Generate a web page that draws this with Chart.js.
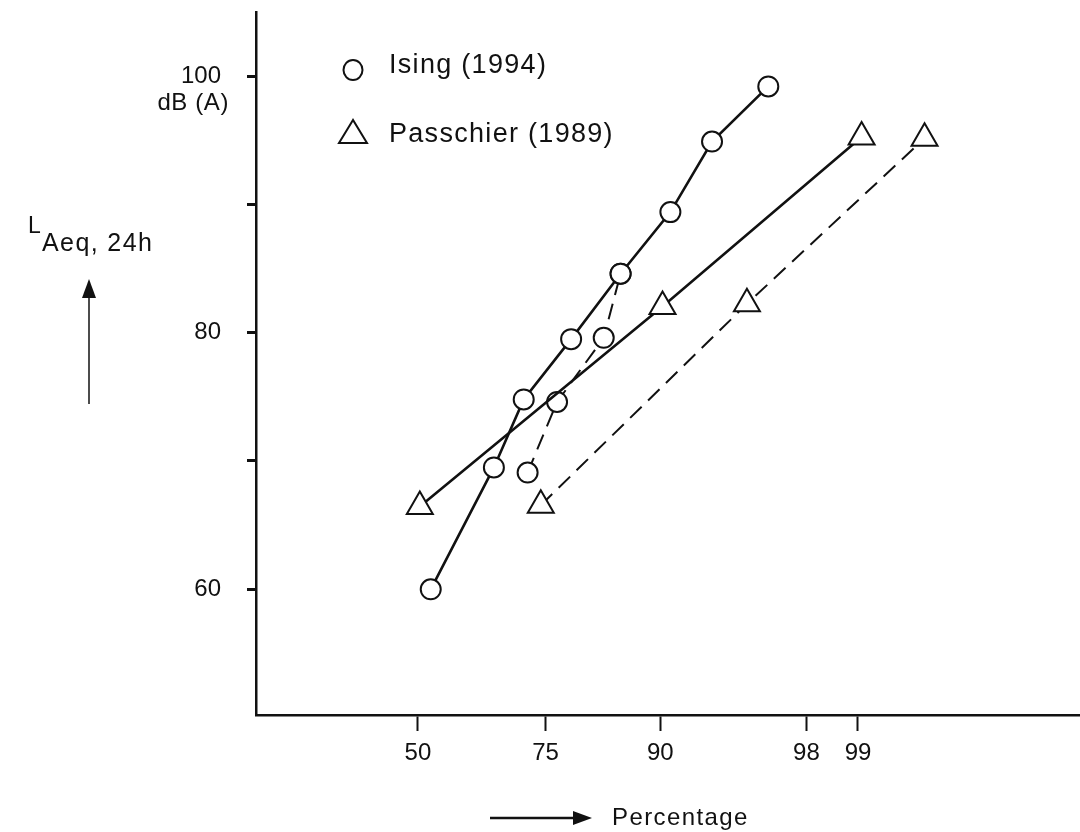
<!DOCTYPE html>
<html>
<head>
<meta charset="utf-8">
<script src="https://cdn.jsdelivr.net/npm/chart.js@4.4.1/dist/chart.umd.min.js"></script>
<style>
  html, body { margin: 0; padding: 0; background: #fff; }
  #wrap { width: 1080px; height: 832px; }
</style>
</head>
<body>
<div id="wrap"><canvas id="lAeqChart" width="1080" height="832"></canvas></div>
<script>
// percentage (x) against LAeq,24h in dB(A) (y)
const isingPct = [52.7, 65.6, 71.2, 79.1, 85.8, 90.9, 94.0, 96.8];
const isingDb = [60.0, 69.5, 74.8, 79.5, 84.6, 89.4, 94.9, 99.2];
const isingDashPct = [71.9, 76.9, 83.7, 85.8];
const isingDashDb = [69.1, 74.6, 79.6, 84.6];
const passchierPct = [50.4, 90.2, 99.05];
const passchierDb = [66.45, 82.05, 95.25];
const passchierDashPct = [74.2, 95.9, 99.63];
const passchierDashDb = [66.55, 82.25, 95.15];

const xTickPct = [50, 75, 90, 98, 99];
const yTicks = [60, 70, 80, 90, 100];
const yTickLabels = ["60", "", "80", "", "100"];

const FONT = "'Liberation Sans', Arial, Helvetica, sans-serif";

// inverse normal cdf (Acklam) - x axis is a probability scale
function probit(p) {
    const a = [-3.969683028665376e+01, 2.209460984245205e+02, -2.759285104469687e+02, 1.383577518672690e+02, -3.066479806614716e+01, 2.506628277459239e+00];
    const b = [-5.447609879822406e+01, 1.615858368580409e+02, -1.556989798598866e+02, 6.680131188771972e+01, -1.328068155288572e+01];
    const c = [-7.784894002430293e-03, -3.223964580411365e-01, -2.400758277161838e+00, -2.549671348019110e+00, 4.374664141464968e+00, 2.938163982698783e+00];
    const d = [7.784695709041462e-03, 3.224671290700398e-01, 2.445134137142996e+00, 3.754408661907416e+00];
    const pLow = 0.02425;
    let q, r;
    if (p < pLow) {
        q = Math.sqrt(-2 * Math.log(p));
        return (((((c[0] * q + c[1]) * q + c[2]) * q + c[3]) * q + c[4]) * q + c[5]) / ((((d[0] * q + d[1]) * q + d[2]) * q + d[3]) * q + 1);
    }
    if (p <= 1 - pLow) {
        q = p - 0.5;
        r = q * q;
        return (((((a[0] * r + a[1]) * r + a[2]) * r + a[3]) * r + a[4]) * r + a[5]) * q / (((((b[0] * r + b[1]) * r + b[2]) * r + b[3]) * r + b[4]) * r + 1);
    }
    q = Math.sqrt(-2 * Math.log(1 - p));
    return -(((((c[0] * q + c[1]) * q + c[2]) * q + c[3]) * q + c[4]) * q + c[5]) / ((((d[0] * q + d[1]) * q + d[2]) * q + d[3]) * q + 1);
}

const toPoints = (pct, db) => pct.map((p, i) => ({ x: probit(p / 100), y: db[i] }));

function series(pct, db, style, dashed) {
    return {
        data: toPoints(pct, db),
        showLine: true,
        borderColor: "#111",
        borderWidth: dashed ? 2 : 2.6,
        borderDash: dashed ? [16, 9] : [],
        pointStyle: style,
        pointRadius: style === "triangle" ? 15 : 10,
        pointBorderWidth: 2,
        pointBorderColor: "#111",
        pointBackgroundColor: "#fff"
    };
}

// legend, axis titles and arrows
const extras = {
    id: "extras",
    afterDraw(chart) {
        const ctx = chart.ctx;
        ctx.save();
        ctx.fillStyle = "#111";
        ctx.strokeStyle = "#111";
        ctx.textBaseline = "middle";

        ctx.font = "24px " + FONT;
        ctx.letterSpacing = "0.6px";
        ctx.textAlign = "right";
        ctx.fillText("dB (A)", 229, 103);

        ctx.textAlign = "left";
        ctx.letterSpacing = "1.4px";
        ctx.font = "23px " + FONT;
        ctx.fillText("L", 28, 227);
        ctx.font = "25px " + FONT;
        ctx.fillText("Aeq, 24h", 42, 244);

        // up arrow
        ctx.lineWidth = 1.5;
        ctx.beginPath();
        ctx.moveTo(89, 404);
        ctx.lineTo(89, 296);
        ctx.stroke();
        ctx.beginPath();
        ctx.moveTo(89, 279);
        ctx.lineTo(82, 298);
        ctx.lineTo(96, 298);
        ctx.closePath();
        ctx.fill();

        // right arrow
        ctx.lineWidth = 2.5;
        ctx.beginPath();
        ctx.moveTo(490, 818);
        ctx.lineTo(575, 818);
        ctx.stroke();
        ctx.beginPath();
        ctx.moveTo(592, 818);
        ctx.lineTo(573, 811);
        ctx.lineTo(573, 825);
        ctx.closePath();
        ctx.fill();

        ctx.font = "24px " + FONT;
        ctx.fillText("Percentage", 612, 818);

        // legend
        ctx.lineWidth = 2;
        ctx.beginPath();
        ctx.ellipse(353, 70, 9.5, 10, 0, 0, Math.PI * 2);
        ctx.stroke();
        ctx.beginPath();
        ctx.moveTo(353, 120);
        ctx.lineTo(339, 143);
        ctx.lineTo(367, 143);
        ctx.closePath();
        ctx.stroke();

        ctx.font = "27px " + FONT;
        ctx.letterSpacing = "1.3px";
        ctx.fillText("Ising (1994)", 389, 66);
        ctx.fillText("Passchier (1989)", 389, 135);
        ctx.restore();
    }
};

const ctx = document.getElementById("lAeqChart").getContext("2d");

window.lAeqChart = new Chart(ctx, {
    type: "scatter",
    data: {
        datasets: [
            series(passchierDashPct, passchierDashDb, "triangle", true),
            series(passchierPct, passchierDb, "triangle", false),
            series(isingDashPct, isingDashDb, "circle", true),
            series(isingPct, isingDb, "circle", false)
        ]
    },
    options: {
        responsive: false,
        animation: false,
        devicePixelRatio: 1,
        layout: { autoPadding: false, padding: { top: 12, right: 0, bottom: 0, left: 0 } },
        plugins: {
            legend: { display: false },
            tooltip: { enabled: false }
        },
        scales: {
            x: {
                type: "linear",
                min: -0.856,
                max: 3.5,
                afterFit: scale => {
                    scale.height = 117;
                    scale.paddingLeft = 0;
                    scale.paddingRight = 0;
                },
                afterBuildTicks: scale => {
                    scale.ticks = xTickPct.map(p => ({ value: probit(p / 100) }));
                },
                ticks: {
                    autoSkip: false,
                    maxRotation: 0,
                    padding: 8,
                    color: "#111",
                    font: { family: FONT, size: 24 },
                    callback: (v, i) => String(xTickPct[i])
                },
                grid: { drawOnChartArea: false, tickLength: 16, tickWidth: 2, tickColor: "#111" },
                border: { color: "#111", width: 2.5 }
            },
            y: {
                type: "linear",
                min: 50.2,
                max: 105,
                afterFit: scale => {
                    scale.width = 256;
                    scale.paddingTop = 0;
                    scale.paddingBottom = 0;
                },
                afterBuildTicks: scale => {
                    scale.ticks = yTicks.map(v => ({ value: v }));
                },
                ticks: {
                    autoSkip: false,
                    padding: 26,
                    color: "#111",
                    font: { family: FONT, size: 24 },
                    callback: (v, i) => yTickLabels[i]
                },
                grid: { drawOnChartArea: false, tickLength: 9, tickWidth: 3, tickColor: "#111" },
                border: { color: "#111", width: 2.5 }
            }
        }
    },
    plugins: [extras]
});
</script>
</body>
</html>
